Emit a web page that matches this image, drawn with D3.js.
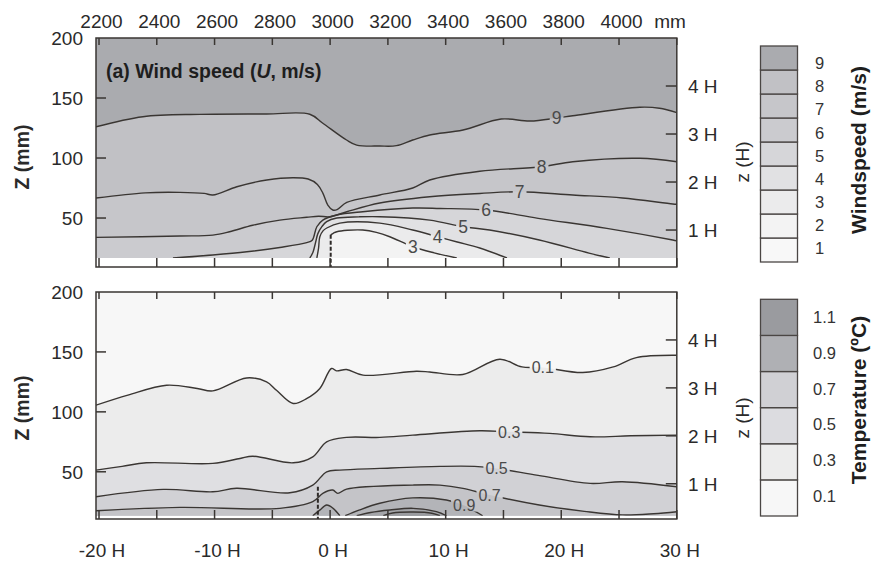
<!DOCTYPE html>
<html>
<head>
<meta charset="utf-8">
<script src="https://cdn.jsdelivr.net/npm/d3@7"></script>
<style>
  body { margin: 0; background: #fff; }
  svg text { font-family: "Liberation Sans", Arial, Helvetica, sans-serif; }
</style>
</head>
<body>
<svg id="chart" width="872" height="562"></svg>
<script>
// ---------- axes ----------
const hTicks = [-20, -15, -10, -5, 0, 5, 10, 15, 20, 25, 30];      // streamwise position (H)
const hLabels = [-20, -10, 0, 10, 20, 30];
const mmLabels = [2200, 2400, 2600, 2800, 3000, 3200, 3400, 3600, 3800, 4000];
const zTicks = [50, 100, 150];
const zLabels = [50, 100, 150, 200];
const zHLabels = [1, 2, 3, 4];
const fenceHeightMm = 40;        // H
const fenceStationMm = 3000;     // x at 0 H

// ---------- wind speed (m/s) ----------
const windLegendValues = [1, 2, 3, 4, 5, 6, 7, 8, 9];
const windColors = ['#f8f8f8', '#f3f3f3', '#ebebec', '#e1e1e3', '#d6d6d9',
                    '#cbcbcf', '#c6c6ca', '#c1c1c5', '#aaabaf'];
const windZ0 = 16.7;                       // lowest measured height (mm)
const windFence = [0.05, 36];              // [H, top z]

const wind9 = [[-20.26,126],[-16.2,134.4],[-11.3,136.4],[-5.5,136.7],[-1.76,136.5],[-0.63,129],
  [1.42,115],[2.3,110.8],[4.3,110],[5.74,110.3],[7.15,115],[8.62,119.2],[11.5,123.3],[14.8,132.5],
  [17.3,130.8],[19.6,133.3],[21.0,135.2],[26.8,142.3],[28.5,141.5],[30,137.8]];
const wind8 = [[-20.26,66.7],[-16,71],[-13,71.4],[-10.9,70.5],[-10.15,69.2],[-8.07,76.1],[-5.48,81.7],
  [-3.23,83.6],[-1.9,82.5],[-1.1,78],[-0.63,70.8],[-0.2,60.8],[0.23,56.7],[0.6,57],[1.44,63],
  [4.3,69.2],[7.15,75],[8.62,81.7],[12.95,89],[18.3,92.75],[21,96.9],[26.8,99.75],[30,96.9]];
const wind7 = [[-20.26,33.9],[-13,35],[-10.15,35.8],[-8.7,38.6],[-6.7,44],[-4.35,48.3],[-2.02,50.6],
  [-1.0,51.5],[0,51.1],[1.44,55.25],[4.3,62.5],[8.62,67.75],[12.95,70.5],[16.4,71.9],[21,69.2],
  [25.3,66.7],[29.65,61.7],[30,61.5]];
const wind6 = [[-13.6,16.7],[-10.15,19.2],[-7.2,21.9],[-4.35,25.5],[-2.02,29.5],[-1.55,31.5],
  [-1.15,42.75],[-0.63,48.3],[0.58,52.5],[2.83,55.25],[7.15,58.3],[9.5,58],[13.5,56.7],[18,49.75],
  [23.94,41.4],[29.65,31.7],[30,31]];
const wind5 = [[-1.76,16.7],[-1.5,21],[-1.25,30],[-1.06,37],[-0.7,43],[-0.3,47],[0.58,50],[2.5,51],
  [4.3,51.1],[8.62,48.3],[11.5,42.75],[13.8,40],[18.1,31.7],[22.4,20.8],[24.2,16.7]];
const wind4 = [[-1.15,16.7],[-1.0,25],[-0.89,34.4],[-0.6,39.5],[-0.29,41.7],[0.84,45.8],[4.3,45.8],
  [7.15,40],[9.3,34.4],[11,30],[12.95,25],[15.3,16.7]];
const wind3 = [[0.05,36],[0.3,37.5],[0.58,38.6],[1.5,39.8],[2.83,40],[4.0,38],[5.16,34.4],
  [7.15,26.1],[9,21],[10.96,16.7]];
const windLabelAt = [[9,19.6],[8,18.3],[7,16.4],[6,13.5],[5,11.5],[4,9.3],[3,7.15]];

// ---------- temperature (ºC) ----------
const tempLegendValues = [0.1, 0.3, 0.5, 0.7, 0.9, 1.1];
const tempLegendColors = ['#f7f7f7', '#ececec', '#dcdce0', '#d0d0d4', '#afb0b4', '#9a9b9f'];
const tempLevels = [0.1, 0.3, 0.5, 0.7, 0.9, 1.1, 1.3];
const tempBandColors = ['#f7f7f7', '#ececec', '#dfdfe2', '#d1d1d5', '#c4c4c8', '#b3b4b8',
                        '#a4a5a9', '#9a9b9f'];
const tempZ0 = 13.3;
const tempFence = [-1.06, 37.5];

const temp01 = [[-20.26,105.6],[-17.5,114],[-14.15,122.25],[-11.5,119.5],[-10.15,117.5],[-7.23,128.3],
  [-5.5,125],[-4.64,118],[-3.2,107],[-2.04,111],[-0.89,119.5],[0.12,136.2],[0.55,134.2],[1.42,135.3],
  [2.85,130.6],[7.47,133.9],[8.62,133.3],[11.48,131.2],[14.68,143.9],[16.6,137.5],[18.4,137],
  [21.86,132.8],[24.5,137.5],[26.5,145.3],[30,147.25]];
const temp03 = [[-20.26,51.4],[-18,54.5],[-15.9,57.5],[-10.15,57],[-7.8,61.1],[-6.7,63],[-3.2,57.5],
  [-1.5,62.5],[-0.3,75],[1.42,78.7],[4.3,78.7],[7.15,80.6],[12.95,84.2],[15.5,83.3],[19,82],
  [22.5,79.2],[26,80],[30,80.6]];
const temp05 = [[-20.26,29.2],[-14.45,35.3],[-10.15,33.3],[-8.1,36.2],[-3.49,32.5],[-1.5,38.9],
  [-0.3,50],[0.84,51.4],[4.3,52.8],[9.5,54.5],[12.5,54.5],[14.4,52.8],[18,47],[22.5,40.3],
  [25.3,41.7],[30,37.5]];
const temp07 = [[-20.26,17.5],[-13,20.3],[-4.35,19.5],[-1.5,25],[-0.6,32.25],[0.23,34.75],[0.66,32],
  [1.42,35.5],[7.15,38.9],[9.5,38.9],[11.5,36.2],[13.8,30.6],[18.1,22.25],[22,17],[25.3,14],
  [28,15],[30,16.7]];
const temp09a = [[-1.5,13.3],[-0.9,18],[-0.3,22.25],[0.26,19.5],[0.84,13.3]];
const temp09b = [[1.3,13.3],[2.5,18],[4.3,23.7],[7.15,28.2],[10.06,26.4],[11.6,21.8],[13.2,13.3]];
const temp11 = [[2.3,13.3],[3.5,16],[5.16,18.1],[7.18,19.5],[9.2,16.7],[10.07,13.3]];
const temp13 = [[4.6,13.3],[5.4,15.6],[7.2,16.4],[8.8,15.4],[9.5,13.3]];
const tempLabelAt = [[0.1,18.4],[0.3,15.5],[0.5,14.4],[0.7,13.8],[0.9,11.6]];

// ---------- layout ----------
const lineColor = '#3a3633';
const textColor = '#2a2a2a';
const svg = d3.select('#chart');
const x = d3.scaleLinear().domain([-20.26, 30]).range([96, 676.8]);
const xMm = d3.scaleLinear()
  .domain([fenceStationMm + fenceHeightMm * -20.26, fenceStationMm + fenceHeightMm * 30])
  .range(x.range());
const defs = svg.append('defs');

const panels = [
  {
    id: 'wind',
    y: d3.scaleLinear().domain([9.2, 200]).range([267, 38]),
    z0: windZ0,
    fence: windFence,
    topColor: windColors[8],
    contours: [[9, wind9], [8, wind8], [7, wind7], [6, wind6], [5, wind5], [4, wind4], [3, wind3]]
      .map(([level, pts]) => ({ level, pts, fill: windColors[level - 2] })),
    labels: windLabelAt, fmt: d => String(d), labelSize: 17.5,
    zLabelCenter: 157, zHCenter: 162
  },
  {
    id: 'temp',
    y: d3.scaleLinear().domain([10.6, 200]).range([519, 292]),
    z0: tempZ0,
    fence: tempFence,
    topColor: tempBandColors[0],
    contours: [[0.1, temp01], [0.3, temp03], [0.5, temp05], [0.7, temp07], [0.9, temp09a],
               [0.9, temp09b], [1.1, temp11], [1.3, temp13]]
      .map(([level, pts]) => ({ level, pts, fill: tempBandColors[tempLevels.indexOf(level) + 1] })),
    labels: tempLabelAt, fmt: d3.format('.1f'), labelSize: 16,
    zLabelCenter: 408, zHCenter: 418
  }
];

function zAt(pts, h) {
  let z = null;
  for (let i = 0; i < pts.length - 1; i++) {
    const [h1, z1] = pts[i], [h2, z2] = pts[i + 1];
    if ((h1 - h) * (h2 - h) <= 0 && h1 !== h2) z = z1 + (z2 - z1) * (h - h1) / (h2 - h1);
  }
  return z;
}

panels.forEach(p => {
  const y = p.y;
  const [x0, x1] = x.range();
  const yTop = y(200), yBot = y(p.z0), yAxis = y.range()[0];
  const line = d3.line().x(d => x(d[0])).y(d => y(d[1])).curve(d3.curveCatmullRom.alpha(0.5));

  defs.append('clipPath').attr('id', 'clip-' + p.id)
    .append('rect').attr('x', x0).attr('y', yTop).attr('width', x1 - x0).attr('height', yBot - yTop);
  const mask = defs.append('mask').attr('id', 'mask-' + p.id)
    .attr('maskUnits', 'userSpaceOnUse').attr('x', 0).attr('y', 0).attr('width', 872).attr('height', 562);
  mask.append('rect').attr('width', 872).attr('height', 562).attr('fill', '#fff');

  // filled bands: each contour paints the region beneath it
  const gFill = svg.append('g').attr('clip-path', `url(#clip-${p.id})`);
  gFill.append('rect').attr('x', x0).attr('y', yTop).attr('width', x1 - x0).attr('height', yBot - yTop)
    .attr('fill', p.topColor);
  gFill.selectAll('path').data(p.contours).join('path')
    .attr('fill', d => d.fill)
    .attr('d', d => {
      const a = d.pts[0], b = d.pts[d.pts.length - 1];
      return line(d.pts) + `L${x(b[0])},${yBot + 4}L${x(a[0])},${yBot + 4}Z`;
    });

  // contour lines, broken where labelled
  const gLines = svg.append('g').attr('clip-path', `url(#clip-${p.id})`);
  gLines.append('g').attr('mask', `url(#mask-${p.id})`)
    .selectAll('path').data(p.contours).join('path')
    .attr('d', d => line(d.pts))
    .attr('fill', 'none').attr('stroke', lineColor).attr('stroke-width', 1.4);

  p.labels.forEach(([level, h]) => {
    const c = p.contours.filter(d => d.level === level).find(d => zAt(d.pts, h) !== null);
    const px = x(h), py = y(zAt(c.pts, h));
    const t = svg.append('text')
      .attr('x', px).attr('y', py)
      .attr('text-anchor', 'middle').attr('dy', '0.36em')
      .attr('font-size', p.labelSize).attr('fill', '#4a4a4a')
      .text(p.fmt(level));
    const w = t.node().getComputedTextLength() + 4;
    mask.append('rect')
      .attr('x', px - w / 2).attr('y', py - 6).attr('width', w).attr('height', 12).attr('fill', '#000');
  });

  // fence
  svg.append('line')
    .attr('x1', x(p.fence[0])).attr('x2', x(p.fence[0]))
    .attr('y1', y(p.fence[1])).attr('y2', yAxis)
    .attr('stroke', '#2e2a28').attr('stroke-width', 2).attr('stroke-dasharray', '4,2');

  // frame and ticks
  const gAx = svg.append('g').attr('stroke', lineColor).attr('stroke-width', 1.5).attr('fill', 'none');
  gAx.append('rect').attr('x', x0).attr('y', yTop).attr('width', x1 - x0).attr('height', yAxis - yTop);
  hTicks.forEach(h => {
    gAx.append('line').attr('x1', x(h)).attr('x2', x(h)).attr('y1', yTop).attr('y2', yTop + 7);
    gAx.append('line').attr('x1', x(h)).attr('x2', x(h)).attr('y1', yAxis).attr('y2', yAxis - 9);
  });
  zTicks.forEach(z => {
    gAx.append('line').attr('x1', x0).attr('x2', x0 + 10).attr('y1', y(z)).attr('y2', y(z));
  });
  zHLabels.forEach(n => {
    gAx.append('line').attr('x1', x1).attr('x2', x1 - 11)
      .attr('y1', y(n * fenceHeightMm)).attr('y2', y(n * fenceHeightMm));
  });

  // axis text
  const gT = svg.append('g').attr('fill', textColor).attr('font-size', 19);
  zLabels.forEach(z => {
    gT.append('text').attr('x', 83).attr('y', y(z)).attr('dy', '0.36em')
      .attr('text-anchor', 'end').text(z);
  });
  zHLabels.forEach(n => {
    gT.append('text').attr('x', 688).attr('y', y(n * fenceHeightMm)).attr('dy', '0.36em')
      .text(`${n} H`);
  });
  gT.append('text')
    .attr('transform', `translate(22,${p.zLabelCenter}) rotate(-90)`)
    .attr('text-anchor', 'middle').attr('dominant-baseline', 'central')
    .attr('font-weight', 'bold').attr('font-size', 19.5).text('Z (mm)');
  gT.append('text')
    .attr('transform', `translate(742,${p.zHCenter}) rotate(-90)`)
    .attr('text-anchor', 'middle').attr('dominant-baseline', 'central')
    .text('z (H)');
});

// top (mm) and bottom (H) axis labels
const gTop = svg.append('g').attr('fill', textColor).attr('font-size', 19).attr('text-anchor', 'middle');
mmLabels.forEach(m => gTop.append('text').attr('x', xMm(m) + 2.5).attr('y', 28).text(m));
gTop.append('text').attr('x', 670).attr('y', 28).text('mm');
const gBot = svg.append('g').attr('fill', textColor).attr('font-size', 19).attr('text-anchor', 'middle');
hLabels.forEach(h => gBot.append('text').attr('x', x(h) + 3).attr('y', 557).text(`${h} H`));

// panel title
const title = svg.append('text').attr('x', 106).attr('y', 78)
  .attr('font-size', 19.5).attr('font-weight', 'bold').attr('fill', '#1e1e1e');
title.append('tspan').text('(a) Wind speed (');
title.append('tspan').attr('font-style', 'italic').text('U');
title.append('tspan').text(', m/s)');

// legends
function legend(values, colors, top, bottom, labelRange, labelX, title, titleY) {
  const band = d3.scaleBand().domain(values.slice().reverse()).range([top, bottom]);
  const lab = d3.scalePoint().domain(values.slice().reverse()).range(labelRange);
  const g = svg.append('g');
  g.selectAll('rect').data(values).join('rect')
    .attr('x', 760.5).attr('width', 37).attr('y', d => band(d)).attr('height', band.bandwidth())
    .attr('fill', (d, i) => colors[i]).attr('stroke', '#4a4644').attr('stroke-width', 1.3);
  g.selectAll('text.v').data(values).join('text').attr('class', 'v')
    .attr('x', labelX).attr('y', d => lab(d)).attr('dy', '0.36em')
    .attr('font-size', 16.5).attr('fill', '#333').text(d => d);
  g.append('text')
    .attr('transform', `translate(858,${titleY}) rotate(-90)`)
    .attr('text-anchor', 'middle').attr('dominant-baseline', 'central')
    .attr('font-size', 21).attr('font-weight', 'bold').attr('fill', '#1e1e1e').text(title);
}
legend(windLegendValues, windColors, 46, 262, [63.3, 248.3], 815, 'Windspeed (m/s)', 150);
legend(tempLegendValues, tempLegendColors, 299.3, 516, [317, 496], 813, 'Temperature (ºC)', 400);
</script>
</body>
</html>
